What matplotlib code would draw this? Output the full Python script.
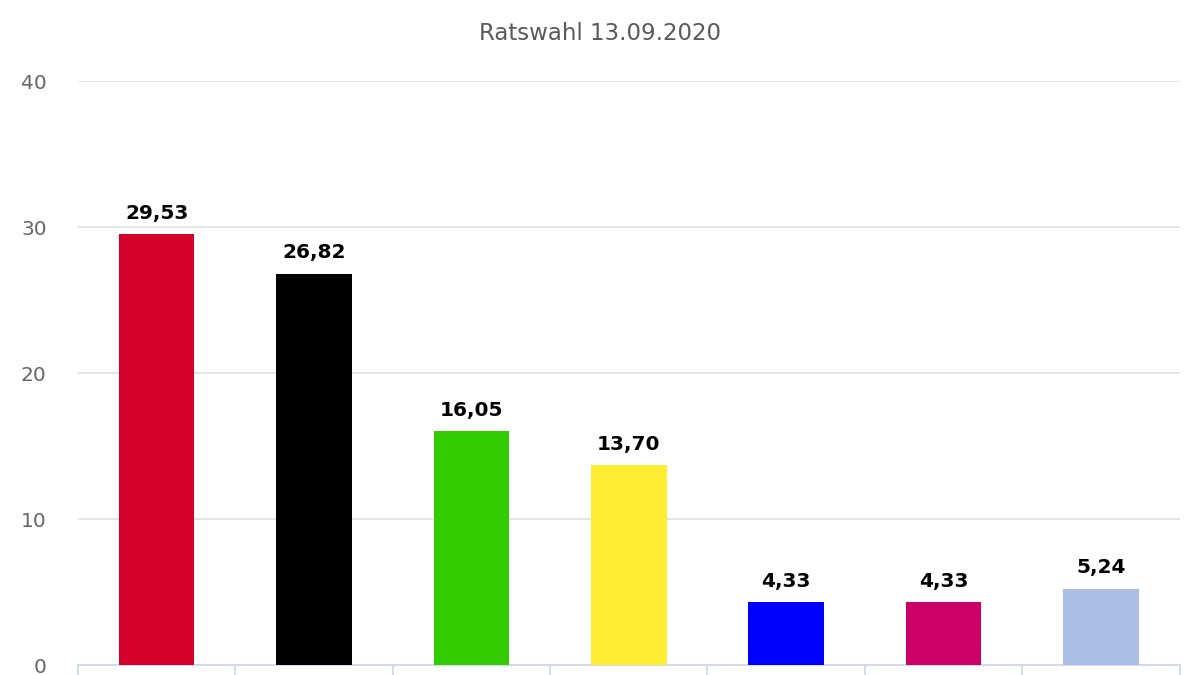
import matplotlib.pyplot as plt

parties = ["SPD", "CDU", "GRÜNE", "FDP", "AfD", "LINKE", "Sonstige"]
values = [29.53, 26.82, 16.05, 13.70, 4.33, 4.33, 5.24]
colors = ["#d5002a", "#000000", "#33cc00", "#ffed33", "#0000ff", "#cc0066", "#abbfe5"]
y_ticks = [0, 10, 20, 30, 40]

fig = plt.figure(figsize=(12, 6.75), dpi=100)
ax = fig.add_axes([0.065, 0.0148, 0.918, 0.865])

x = list(range(len(parties)))
bars = ax.bar(x, values, width=0.48, color=colors, zorder=3)

# value labels with German decimal comma
for b, v in zip(bars, values):
    ax.annotate(f"{v:.2f}".replace(".", ","),
                (b.get_x() + b.get_width() / 2, b.get_height()),
                xytext=(0, 8), textcoords="offset points",
                ha="center", va="bottom", fontsize=14.5, fontweight="bold", color="#000000")

ax.set_xlim(-0.5, len(parties) - 0.5)
ax.set_ylim(0, 40)
ax.set_yticks(y_ticks)
ax.set_yticklabels([str(t) for t in y_ticks])
ax.grid(axis="y", color="#e3e3e3", linewidth=1.3, zorder=0)
ax.tick_params(axis="y", length=0, labelsize=14.5, labelcolor="#666666", pad=22.5)

# category boundary ticks below the axis line
ax.set_xticks([i - 0.5 for i in range(len(parties) + 1)])
ax.set_xticklabels([])
ax.tick_params(axis="x", length=12, color="#ccd6eb", width=1.2, direction="out")

for s in ["top", "right", "left"]:
    ax.spines[s].set_visible(False)
ax.spines["bottom"].set_color("#ccd6eb")
ax.spines["bottom"].set_linewidth(1.2)

fig.text(0.5, 0.951, "Ratswahl 13.09.2020", ha="center", va="center",
         fontsize=16.5, color="#595959")

fig.savefig("out.png", dpi=100)
